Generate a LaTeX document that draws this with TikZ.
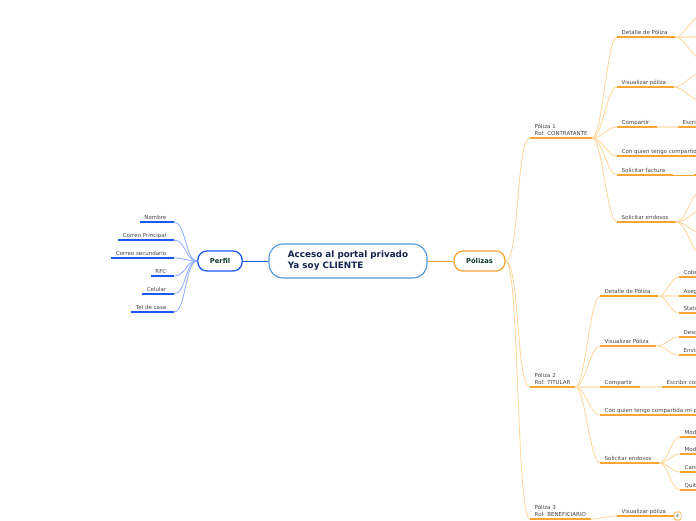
\documentclass[tikz,border=0pt]{standalone}
\usepackage{fontspec}
\setmainfont{DejaVu Sans}
\usetikzlibrary{positioning}
\definecolor{navy}{HTML}{12224F}
\definecolor{pine}{HTML}{0E3B2B}
\definecolor{ink}{HTML}{454545}
\definecolor{sky}{HTML}{4A95DC}
\definecolor{royal}{HTML}{1A58F2}
\definecolor{paleblue}{HTML}{8EABFF}
\definecolor{amber}{HTML}{F8A532}
\definecolor{paleamber}{HTML}{FFD595}
\definecolor{cream}{HTML}{FFE6C4}
\tikzset{
  rootbox/.style={draw=sky, line width=1.1pt, rounded corners=14pt, minimum width=158pt,
    minimum height=34pt, inner xsep=18pt, align=left, text=navy,
    font=\fontsize{8.8}{11}\selectfont\bfseries},
  hubbox/.style={draw=#1, line width=1.3pt, rounded corners=9pt, minimum height=20pt,
    inner xsep=12pt, text=pine, font=\fontsize{6.8}{8}\selectfont\bfseries},
  uline/.style={draw=#1, line width=1.8pt},
  tagnode/.style={inner xsep=4.5pt, inner ysep=1.5pt, text=ink, font=\fontsize{5.5}{7}\selectfont,
    append after command={(\tikzlastnode.south west) edge[uline=#1] (\tikzlastnode.south east)}},
  tagnode/.default=amber,
  leafnode/.style={tagnode=#1, text height=4pt, text depth=1.2pt, execute at end node={\hspace{3pt}}},
  leafnode/.default=amber,
  polnode/.style={tagnode, align=left, inner ysep=2.5pt, anchor=south west},
  tally/.style={draw=amber, line width=.6pt, rounded corners=1.5pt, minimum width=7pt,
    minimum height=8pt, inner sep=0pt, text=ink, font=\fontsize{4.5}{5}\selectfont},
  curvy/.style={to path={.. controls +(#1,0) and +(-#1,0) .. (\tikztotarget)}},
  blink/.style={draw=paleblue, line width=.8pt},
  olink/.style={draw=paleamber, line width=.8pt},
  flat/.style={draw=cream, line width=1.8pt},
}

\begin{document}
\begin{tikzpicture}[x=1pt,y=-1pt]
\useasboundingbox (0,0) rectangle (696,520);
\clip (0,0) rectangle (696,520);

% centre
\node[rootbox] (acceso) at (348,261) {Acceso al portal privado\\Ya soy CLIENTE};
\node[hubbox=royal] (perfil) at (220,261) {Perfil};
\node[hubbox=amber] (polizas) at (479.5,261) {Pólizas};
\draw[royal, line width=.9pt] (acceso) -- (perfil);
\draw[amber, line width=.9pt] (acceso) -- (polizas);

% perfil
\node[leafnode=royal, anchor=south east] (nombre) at (174,222) {Nombre};
\node[leafnode=royal, anchor=south east] (principal) at (174,240) {Correo Principal};
\node[leafnode=royal, anchor=south east] (secundario) at (174,258) {Correo secundario};
\node[leafnode=royal, anchor=south east] (rfc) at (174,276) {RFC};
\node[leafnode=royal, anchor=south east] (celular) at (174,294) {Celular};
\node[leafnode=royal, anchor=south east] (casa) at (174,312) {Tel de casa};
\foreach \n in {nombre,principal,secundario,rfc,celular,casa}
  \draw[blink] (\n.south east) to[curvy=12] (perfil.west);

% polizas
\node[polnode] (pol1) at (530,138) {Póliza 1\\Rol: CONTRATANTE};
\node[polnode] (pol2) at (530,387) {Póliza 2\\Rol: TITULAR};
\node[polnode] (pol3) at (530,519) {Póliza 3\\Rol: BENEFICIARIO};
\foreach \n in {pol1,pol2,pol3}
  \draw[olink] (polizas.east) to[curvy=14] (\n.south west);

% poliza 1
\node[leafnode, anchor=south west] (detalle1) at (617,37) {Detalle de Póliza};
\node[leafnode, anchor=south west] (ver1) at (617,87) {Visualizar póliza};
\node[leafnode, anchor=south west] (compartir1) at (617,127) {Compartir};
\node[leafnode, anchor=south west] (quien1) at (617,156) {Con quien tengo compartida mi póliza};
\node[leafnode, anchor=south west] (factura1) at (617,175) {Solicitar factura};
\node[leafnode, anchor=south west] (endosos1) at (617,222) {Solicitar endosos};
\foreach \n in {detalle1,ver1,compartir1,quien1,factura1,endosos1}
  \draw[olink] (pol1.south east) to[curvy=10] (\n.south west);

\coordinate (detalle1a) at (702,15);
\coordinate (detalle1b) at (702,37);
\coordinate (detalle1c) at (702,59);
\draw[olink] (detalle1.south east) to[curvy=10] (detalle1a);
\draw[flat] (detalle1.south east) -- (detalle1b);
\draw[olink] (detalle1.south east) to[curvy=10] (detalle1c);

\coordinate (ver1a) at (700,74);
\coordinate (ver1b) at (700,100);
\foreach \n in {ver1a,ver1b}
  \draw[olink] (ver1.south east) to[curvy=10] (\n);

\node[leafnode, anchor=south west] (escribir1) at (678,127) {Escribir correo};
\draw[flat] (compartir1.south east) -- (escribir1.south west);

\coordinate (factura1a) at (694,175);
\draw[amber, line width=.5pt] (factura1.south east) -- (factura1a);
\draw[uline=amber] (factura1a) -- ++(8,0);

\coordinate (endosos1a) at (702,190);
\coordinate (endosos1b) at (702,211);
\coordinate (endosos1c) at (702,233);
\coordinate (endosos1d) at (702,254);
\foreach \n in {endosos1a,endosos1b,endosos1c,endosos1d}
  \draw[olink] (endosos1.south east) to[curvy=10] (\n);

% poliza 2
\node[leafnode, anchor=south west] (detalle2) at (600,296) {Detalle de Póliza};
\node[leafnode, anchor=south west] (ver2) at (600,346) {Visualizar Póliza};
\node[leafnode, anchor=south west] (compartir2) at (600,387) {Compartir};
\node[leafnode, anchor=south west] (quien2) at (600,415) {Con quien tengo compartida mi póliza};
\node[leafnode, anchor=south west] (endosos2) at (600,463) {Solicitar endosos};
\foreach \n in {detalle2,ver2,quien2,endosos2}
  \draw[olink] (pol2.south east) to[curvy=10] (\n.south west);
\draw[flat] (pol2.south east) -- (compartir2.south west);

\node[leafnode, anchor=south west] (cobertura2) at (679,277) {Coberturas};
\node[leafnode, anchor=south west] (asegurado2) at (679,296) {Asegurados};
\node[leafnode, anchor=south west] (status2) at (679,313) {Status de la póliza};
\draw[olink] (detalle2.south east) to[curvy=9] (cobertura2.south west);
\draw[flat] (detalle2.south east) -- (asegurado2.south west);
\draw[olink] (detalle2.south east) to[curvy=9] (status2.south west);

\node[leafnode, anchor=south west] (descarga2) at (679,337) {Descargar póliza};
\node[leafnode, anchor=south west] (envio2) at (679,355) {Enviar por correo};
\foreach \n in {descarga2,envio2}
  \draw[olink] (ver2.south east) to[curvy=9] (\n.south west);

\node[leafnode, anchor=south west] (escribir2) at (662,387) {Escribir correo};
\draw[flat] (compartir2.south east) -- (escribir2.south west);

\node[leafnode, anchor=south west] (modifica2a) at (680,437) {Modificar datos};
\node[leafnode, anchor=south west] (modifica2b) at (680,454) {Modificar coberturas};
\node[leafnode, anchor=south west] (cancela2) at (680,472) {Cancelar póliza};
\node[leafnode, anchor=south west] (quita2) at (680,490) {Quitar asegurado};
\foreach \n in {modifica2a,modifica2b,cancela2,quita2}
  \draw[olink] (endosos2.south east) to[curvy=9] (\n.south west);

% poliza 3
\node[leafnode, anchor=south west] (ver3) at (617,516) {Visualizar póliza};
\node[tally, anchor=west] (ver3n) at (ver3.south east) {4};
\draw[olink] (pol3.south east) to[curvy=10] (ver3.south west);
\end{tikzpicture}
\end{document}
